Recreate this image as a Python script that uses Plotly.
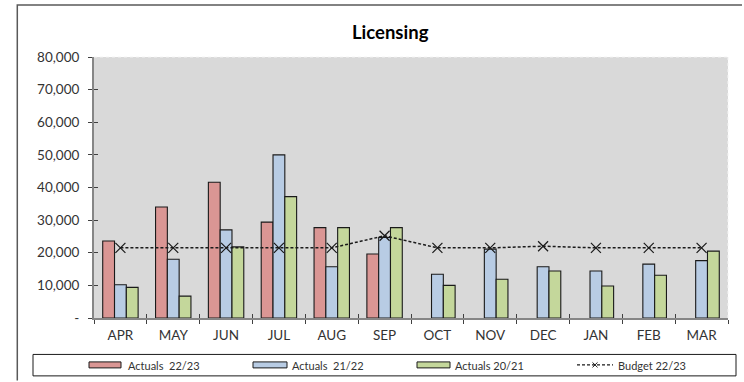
import plotly.graph_objects as go

# ---- data ----
months = ["APR", "MAY", "JUN", "JUL", "AUG", "SEP", "OCT", "NOV", "DEC", "JAN", "FEB", "MAR"]
actuals_2223 = [23600, 34000, 41600, 29400, 27700, 19600, None, None, None, None, None, None]
actuals_2122 = [10200, 18000, 27000, 50000, 15700, 24700, 13400, 21100, 15700, 14400, 16500, 17600]
actuals_2021 = [9400, 6700, 21800, 37200, 27700, 27700, 10000, 11900, 14400, 9800, 13100, 20500]
budget_2223 = [21500, 21500, 21500, 21500, 21500, 25200, 21500, 21500, 22000, 21500, 21500, 21500]

series_names = ["Actuals\u00a0 22/23", "Actuals\u00a0 21/22", "Actuals 20/21", "Budget 22/23"]
bar_colors = ["#da9694", "#b8cce4", "#c4d79b"]

y_ticks = [0, 10000, 20000, 30000, 40000, 50000, 60000, 70000, 80000]
y_ticktext = ["-"] + [f"{v:,}" for v in y_ticks[1:]]

# ---- page geometry (pixels) ----
W, H = 744, 382
ML, MR, MT, MB = 94, 16, 57, 63.5
PW, PH = W - ML - MR, H - MT - MB


def px(x):
    return (x - ML) / PW


def py(y):
    return (H - MB - y) / PH


FONT = "Lato, 'Open Sans', sans-serif"
TXT = "#333333"

fig = go.Figure()

for name, vals, col in zip(series_names[:3], [actuals_2223, actuals_2122, actuals_2021], bar_colors):
    fig.add_trace(go.Bar(
        x=months, y=vals, name=name,
        marker=dict(color=col, line=dict(color="#1a1a1a", width=1.1)),
        showlegend=False,
    ))

fig.add_trace(go.Scatter(
    x=months, y=budget_2223, name=series_names[3], mode="lines+markers",
    line=dict(color="#1a1a1a", width=1.5, dash="3px,2px"),
    marker=dict(symbol="x-thin", size=10, line=dict(color="#1a1a1a", width=1.2)),
    showlegend=False,
))

shapes = []
annotations = []

# faint dotted outline of the plot area
shapes.append(dict(type="line", xref="paper", yref="paper", x0=0, x1=1, y0=1, y1=1,
                   line=dict(color="#f4f4f4", width=1, dash="dot"), layer="above"))
shapes.append(dict(type="line", xref="paper", yref="paper", x0=1, x1=1, y0=0, y1=1,
                   line=dict(color="#f4f4f4", width=1, dash="dot"), layer="above"))

# chart frame: open path along the left and top edges
frame_path = "M {:.5f},{:.5f} L {:.5f},{:.5f} L {:.5f},{:.5f}".format(
    px(17.3), py(H - 1), px(17.3), py(5), px(W - 2), py(5))
shapes.append(dict(type="path", xref="paper", yref="paper", path=frame_path,
                   line=dict(color="#595959", width=1.5), fillcolor="rgba(0,0,0,0)"))

# legend box
shapes.append(dict(type="rect", xref="paper", yref="paper", x0=px(33), x1=px(736),
                   y0=py(355), y1=py(376.5), line=dict(color="#1a1a1a", width=1), fillcolor="white"))

swatches = [(89, 121, 126), (253, 287, 290), (417, 450, 453)]
for (s0, s1, tx), col, name in zip(swatches, bar_colors, series_names[:3]):
    shapes.append(dict(type="rect", xref="paper", yref="paper", x0=px(s0), x1=px(s1),
                       y0=py(368.5), y1=py(362.5), line=dict(color="#1a1a1a", width=1), fillcolor=col))
    annotations.append(dict(text=name, xref="paper", yref="paper", x=px(tx), y=py(365.8),
                            xanchor="left", yanchor="middle", showarrow=False,
                            font=dict(family=FONT, size=11, color=TXT)))

# budget legend entry: dashed line with a small cross
shapes.append(dict(type="line", xref="paper", yref="paper", x0=px(577), x1=px(613),
                   y0=py(365.5), y1=py(365.5), line=dict(color="#1a1a1a", width=1.2, dash="3px,2px")))
for a, b in [(-2.5, 2.5), (2.5, -2.5)]:
    shapes.append(dict(type="line", xref="paper", yref="paper", x0=px(595 - 2.5), x1=px(595 + 2.5),
                       y0=py(365.5 + a), y1=py(365.5 + b), line=dict(color="#1a1a1a", width=1)))
annotations.append(dict(text=series_names[3], xref="paper", yref="paper", x=px(616), y=py(365.8),
                        xanchor="left", yanchor="middle", showarrow=False,
                        font=dict(family=FONT, size=11, color=TXT)))

# title
annotations.append(dict(text="Licensing", xref="paper", yref="paper", x=px(390), y=py(32),
                        xanchor="center", yanchor="middle", showarrow=False,
                        font=dict(family=FONT, size=18.5, color="#000000", weight=700)))

fig.update_layout(
    width=W, height=H,
    margin=dict(l=ML, r=MR, t=MT, b=MB, pad=0),
    paper_bgcolor="white",
    plot_bgcolor="#d9d9d9",
    barmode="group",
    bargap=0.33,
    bargroupgap=0,
    font=dict(family=FONT, size=13, color=TXT),
    shapes=shapes,
    annotations=annotations,
    xaxis=dict(
        type="category", categoryorder="array", categoryarray=months,
        range=[-0.5, 11.5], tickson="boundaries", ticks="outside", ticklen=4,
        tickcolor="#404040", tickwidth=1,
        showline=True, linecolor="#868686", linewidth=2,
        showgrid=False, zeroline=False,
        tickfont=dict(family=FONT, size=13.5, color=TXT), ticklabelstandoff=4,
    ),
    xaxis2=dict(
        overlaying="x", range=[-0.5, 11.5], tickvals=[i - 0.5 for i in range(13)],
        ticks="inside", ticklen=4, tickcolor="#404040", tickwidth=1,
        showticklabels=False, showgrid=False, zeroline=False, showline=False,
        side="bottom", anchor="y",
    ),
    yaxis=dict(
        range=[0, 80000], tickvals=y_ticks, ticktext=y_ticktext,
        ticks="outside", ticklen=4, tickcolor="#404040", tickwidth=1,
        showline=True, linecolor="#868686", linewidth=2,
        showgrid=False, zeroline=False,
        tickfont=dict(family=FONT, size=13.5, color=TXT), ticklabelstandoff=6,
    ),
    yaxis2=dict(
        overlaying="y", range=[0, 80000], tickvals=y_ticks,
        ticks="inside", ticklen=4, tickcolor="#404040", tickwidth=1,
        showticklabels=False, showgrid=False, zeroline=False, showline=False,
        side="left", anchor="x",
    ),
)

# invisible helper trace so the overlay tick axes are drawn
fig.add_trace(go.Scatter(x=[None], y=[None], xaxis="x2", yaxis="y2", showlegend=False, hoverinfo="skip"))

fig.write_html("out.html")
